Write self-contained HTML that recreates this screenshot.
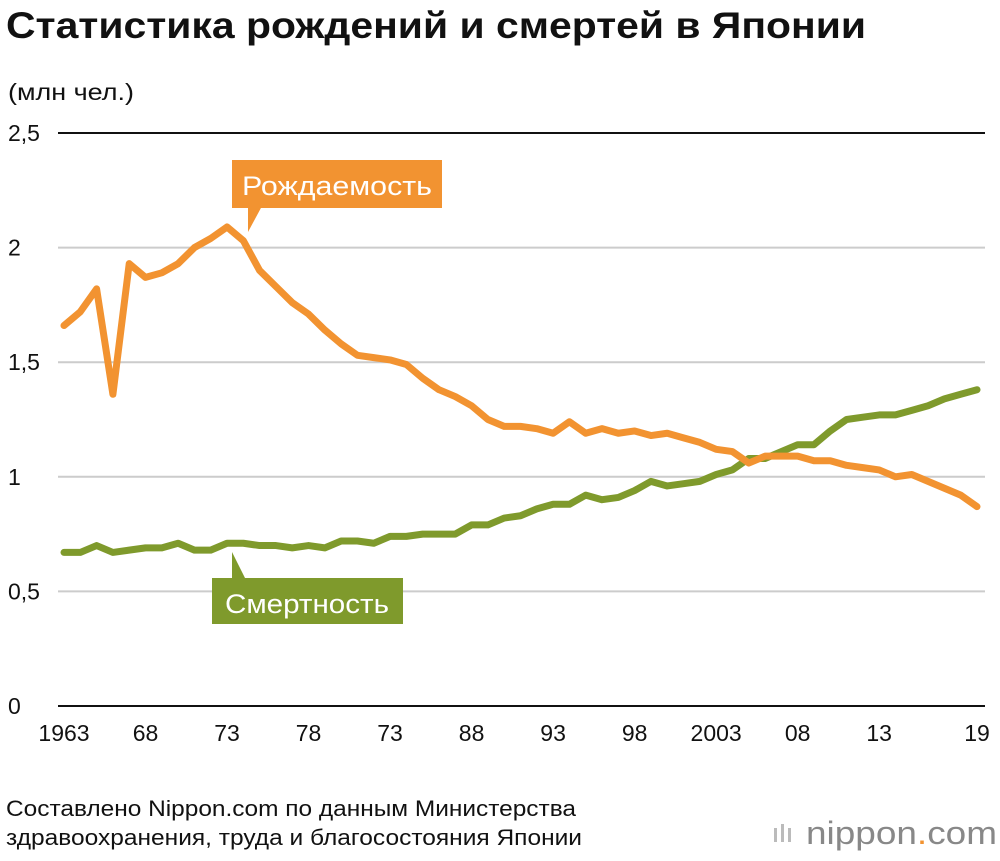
<!DOCTYPE html>
<html><head><meta charset="utf-8"><style>
body{margin:0;background:#fff;width:1000px;height:856px;overflow:hidden;font-family:"Liberation Sans","DejaVu Sans",sans-serif;}
</style></head><body>
<svg width="1000" height="856" xmlns="http://www.w3.org/2000/svg">
<text x="6" y="38" font-size="37" font-weight="bold" fill="#111" textLength="860" lengthAdjust="spacingAndGlyphs">Статистика рождений и смертей в Японии</text>
<text x="8" y="100" font-size="23" fill="#111" textLength="126" lengthAdjust="spacingAndGlyphs">(млн чел.)</text>
<g id="grid"></g>
<g id="xt"></g>
<g id="lines"></g>
<g>
<polygon points="248,206 262,206 248,232" fill="#f29331"/>
<rect x="232" y="160" width="210" height="48" fill="#f29331"/>
<text x="337" y="195" font-size="27" fill="#fff" text-anchor="middle" textLength="190" lengthAdjust="spacingAndGlyphs">Рождаемость</text>
</g>
<g>
<polygon points="232,552 232,580 246,580" fill="#7f9a2c"/>
<rect x="212" y="578" width="191" height="46" fill="#7f9a2c"/>
<text x="307" y="613" font-size="27" fill="#fff" text-anchor="middle" textLength="164" lengthAdjust="spacingAndGlyphs">Смертность</text>
</g>
<text x="6" y="816" font-size="22" fill="#111" textLength="570" lengthAdjust="spacingAndGlyphs">Составлено Nippon.com по данным Министерства</text>
<text x="6" y="845" font-size="22" fill="#111" textLength="576" lengthAdjust="spacingAndGlyphs">здравоохранения, труда и благосостояния Японии</text>
<g>
<rect x="774" y="828" width="3" height="14" fill="#bbb"/><rect x="781" y="824" width="3" height="18" fill="#bbb"/><rect x="788" y="828" width="3" height="14" fill="#bbb"/>
<text x="806" y="844" font-size="32" fill="#888" textLength="191" lengthAdjust="spacingAndGlyphs">nippon<tspan fill="#f29331">.</tspan>com</text>
</g>
</svg>
<script>
const years=[];for(let y=1963;y<=2019;y++)years.push(y);
const births=[1.66,1.72,1.82,1.36,1.93,1.87,1.89,1.93,2.00,2.04,2.09,2.03,1.90,1.83,1.76,1.71,1.64,1.58,1.53,1.52,1.51,1.49,1.43,1.38,1.35,1.31,1.25,1.22,1.22,1.21,1.19,1.24,1.19,1.21,1.19,1.20,1.18,1.19,1.17,1.15,1.12,1.11,1.06,1.09,1.09,1.09,1.07,1.07,1.05,1.04,1.03,1.00,1.01,0.98,0.95,0.92,0.87];
const deaths=[0.67,0.67,0.70,0.67,0.68,0.69,0.69,0.71,0.68,0.68,0.71,0.71,0.70,0.70,0.69,0.70,0.69,0.72,0.72,0.71,0.74,0.74,0.75,0.75,0.75,0.79,0.79,0.82,0.83,0.86,0.88,0.88,0.92,0.90,0.91,0.94,0.98,0.96,0.97,0.98,1.01,1.03,1.08,1.08,1.11,1.14,1.14,1.20,1.25,1.26,1.27,1.27,1.29,1.31,1.34,1.36,1.38];
const yTicks=[0,0.5,1,1.5,2,2.5];
const yTickLabels=["0","0,5","1","1,5","2","2,5"];
const xTickYears=[1963,1968,1973,1978,1983,1988,1993,1998,2003,2008,2013,2019];
const xTickLabels=["1963","68","73","78","73","88","93","98","2003","08","13","19"];
const NS="http://www.w3.org/2000/svg";
const X=y=>64+(y-1963)*(977-64)/56;
const Y=v=>706-v*(706-133)/2.5;
function mk(t,a,p){const e=document.createElementNS(NS,t);for(const k in a)e.setAttribute(k,a[k]);p.appendChild(e);return e;}
const g=document.getElementById('grid');
yTicks.forEach((v,i)=>{
const l=mk('line',{x1:58,x2:985,y1:Y(v),y2:Y(v),stroke:(v===0||v===2.5)?'#111':'#ccc','stroke-width':2},g);


const t=mk('text',{x:8,y:Y(v)+8,'font-size':23,fill:'#111'},g);t.textContent=yTickLabels[i];


});
const xt=document.getElementById('xt');
xTickYears.forEach((yr,i)=>{
const t=mk('text',{x:X(yr),y:741,'font-size':23,fill:'#111','text-anchor':'middle'},xt);t.textContent=xTickLabels[i];


});
const lg=document.getElementById('lines');
function line(d,c,n){const p=mk('polyline',{points:d.map((v,i)=>X(years[i])+','+Y(v)).join(' '),fill:'none',stroke:c,'stroke-width':7,'stroke-linejoin':'round','stroke-linecap':'round'},lg);

}
line(deaths,'#7f9a2c','deaths-line');
line(births,'#f29331','births-line');
</script>
</body></html>
